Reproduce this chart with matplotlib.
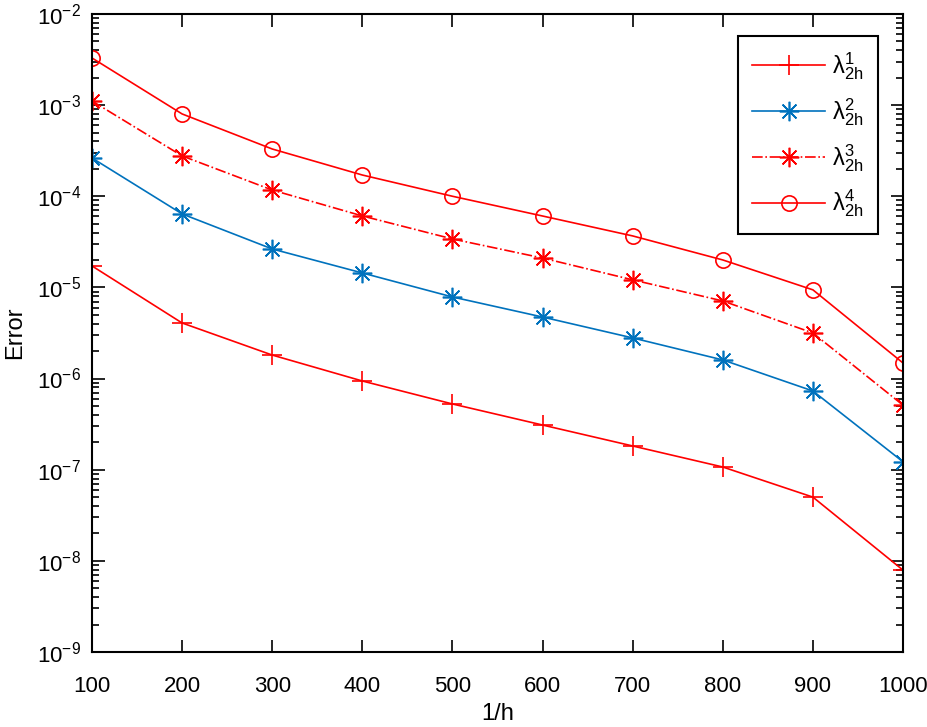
import numpy as np
import matplotlib
matplotlib.use("Agg")
import matplotlib.pyplot as plt
from matplotlib.ticker import LogLocator, NullFormatter

plt.rcParams['font.family'] = ['Liberation Sans', 'DejaVu Sans']
plt.rcParams['mathtext.fontset'] = 'custom'
plt.rcParams['mathtext.rm'] = 'Liberation Sans'
plt.rcParams['mathtext.it'] = 'Liberation Sans:italic'

# data
inv_h = [100, 200, 300, 400, 500, 600, 700, 800, 900, 1000]
err1 = [1.72e-5, 4.07e-6, 1.81e-6, 9.4e-7, 5.26e-7, 3.09e-7, 1.82e-7, 1.07e-7, 5.0e-8, 7.9e-9]
err2 = [2.63e-4, 6.4e-5, 2.64e-5, 1.44e-5, 7.85e-6, 4.73e-6, 2.79e-6, 1.6e-6, 7.3e-7, 1.22e-7]
err3 = [1.11e-3, 2.77e-4, 1.17e-4, 6.08e-5, 3.4e-5, 2.1e-5, 1.21e-5, 7.1e-6, 3.16e-6, 5.1e-7]
err4 = [3.29e-3, 8.0e-4, 3.3e-4, 1.71e-4, 1.0e-4, 6.07e-5, 3.67e-5, 2.0e-5, 9.4e-6, 1.48e-6]
labels = [r'$\mathregular{\lambda^{1}_{2h}}$', r'$\mathregular{\lambda^{2}_{2h}}$',
          r'$\mathregular{\lambda^{3}_{2h}}$', r'$\mathregular{\lambda^{4}_{2h}}$']

red = '#FF0000'
blue = '#0072BD'
star = (8, 2, 0)

fig = plt.figure(figsize=(9.28, 7.27), dpi=100)
ax = fig.add_axes([0.0991, 0.1032, 0.874, 0.8776])

ax.semilogy(inv_h, err1, '-', color=red, marker='+', ms=14, mew=1.2, lw=1.2, label=labels[0])
ax.semilogy(inv_h, err2, '-', color=blue, marker=star, ms=14, mew=1.2, lw=1.2, label=labels[1])
ax.semilogy(inv_h, err3, '-.', color=red, marker=star, ms=14, mew=1.2, lw=1.2, label=labels[2])
ax.semilogy(inv_h, err4, '-', color=red, marker='o', ms=11, mew=1.2, mfc='none', lw=1.2, label=labels[3])

ax.set_xlim(100, 1000)
ax.set_ylim(1e-9, 1e-2)
ax.set_xticks(inv_h)
ax.yaxis.set_major_locator(LogLocator(base=10, numticks=20))
ax.yaxis.set_minor_locator(LogLocator(base=10, subs=np.arange(2, 10), numticks=20))
ax.yaxis.set_minor_formatter(NullFormatter())
ax.tick_params(which='both', direction='in', top=True, right=True, labelsize=16, width=1.2)
ax.tick_params(which='major', length=9)
ax.tick_params(which='minor', length=5)
ax.tick_params(axis='x', which='major', pad=17)
ax.tick_params(axis='y', which='major', pad=8)
for s in ax.spines.values():
    s.set_linewidth(1.5)

ax.set_xlabel('1/h', fontsize=17)
ax.set_ylabel('Error', fontsize=17)
ax.xaxis.set_label_coords(0.5, -0.080)
ax.yaxis.set_label_coords(-0.081, 0.5)

leg = ax.legend(loc='upper right', bbox_to_anchor=(0.969, 0.9655), fontsize=17, fancybox=False,
                edgecolor='black', framealpha=1, handlelength=3.1, labelspacing=0.6,
                borderpad=0.6, handletextpad=0.3, borderaxespad=0)
leg.get_frame().set_linewidth(1.5)

fig.savefig('out.png', dpi=100)
